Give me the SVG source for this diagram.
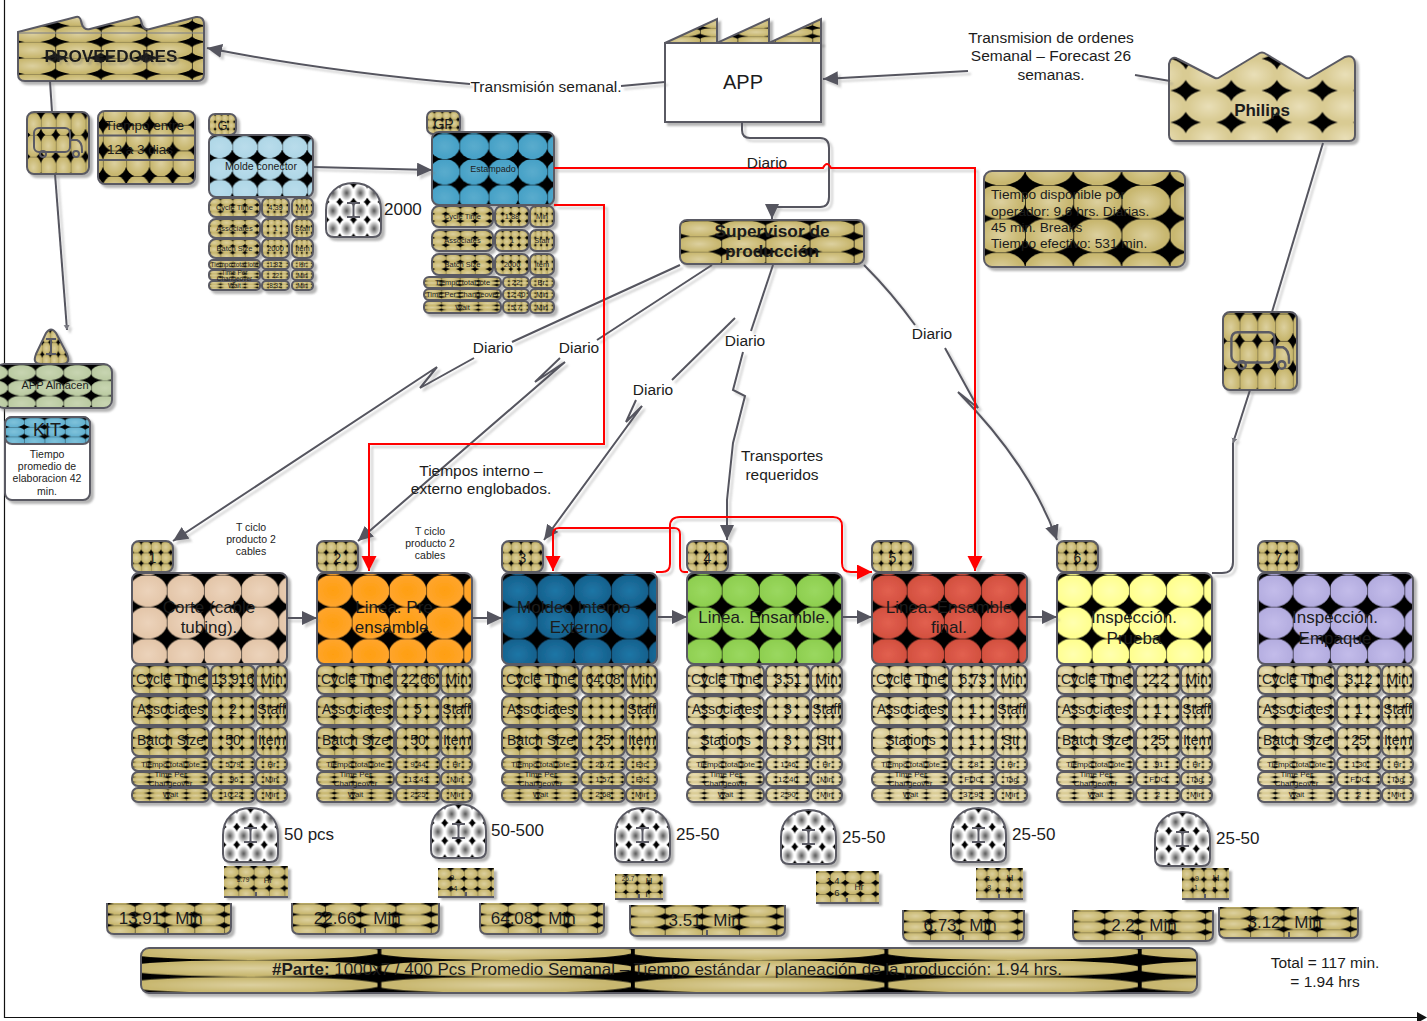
<svg xmlns="http://www.w3.org/2000/svg" width="1427" height="1021" viewBox="0 0 1427 1021">
<style>
text{font-family:"Liberation Sans",Arial,sans-serif;fill:#1c1c1c;text-anchor:middle}
.l{text-anchor:start}
.b{font-weight:bold}
.n{stroke:#5a5a64;stroke-width:2}
.cell rect{stroke:#5a5a64;stroke-width:2}
.icon{fill:none;stroke:#5a5a64;stroke-width:2}
.tan{fill:url(#pTan)}.lt{fill:url(#pLt)}
.c{fill:none;stroke:#55555f;stroke-width:2}
.r{fill:none;stroke:#f00;stroke-width:2}
.f14{font-size:14px}.fl{font-size:15.5px}.f17{font-size:17px}.f8{font-size:8px}.f10{font-size:10.5px}.f16{font-size:17px}
.tk{stroke:#5a5a64;stroke-width:2;fill:none}
</style>
<defs>
<filter id="sh" x="-15%" y="-25%" width="135%" height="160%"><feDropShadow dx="3" dy="3" stdDeviation="1" flood-color="#777" flood-opacity=".55"/></filter>
<filter id="ts" x="-5%" y="-20%" width="115%" height="160%"><feDropShadow dx="2" dy="3" stdDeviation="1" flood-color="#777" flood-opacity=".35"/></filter>
<filter id="cs" filterUnits="userSpaceOnUse" x="0" y="0" width="1427" height="1021"><feDropShadow dx="3" dy="3" stdDeviation=".8" flood-color="#777" flood-opacity=".35"/></filter>
<radialGradient id="gTan"><stop offset="0" stop-color="#dcd09f"/><stop offset=".85" stop-color="#c8b76f"/></radialGradient>
<radialGradient id="gLt"><stop offset="0" stop-color="#e9dfb8"/><stop offset=".85" stop-color="#d9cb93"/></radialGradient>
<radialGradient id="gW"><stop offset="0" stop-color="#555"/><stop offset=".8" stop-color="#fff"/><stop offset="1" stop-color="#fff"/></radialGradient>
<radialGradient id="g0"><stop offset="0" stop-color="#b9dceb"/><stop offset="1" stop-color="#aed6e6"/></radialGradient>
<radialGradient id="gE"><stop offset="0" stop-color="#5aaccd"/><stop offset="1" stop-color="#45a0c6"/></radialGradient>
<radialGradient id="gA"><stop offset="0" stop-color="#c8d5b2"/><stop offset="1" stop-color="#b9c9a0"/></radialGradient>
<radialGradient id="gK"><stop offset="0" stop-color="#80c2da"/><stop offset="1" stop-color="#62b0cf"/></radialGradient>
<radialGradient id="g1"><stop offset="0" stop-color="#ecd3bb"/><stop offset="1" stop-color="#e3c5a8"/></radialGradient>
<radialGradient id="g2"><stop offset="0" stop-color="#ff9f10"/><stop offset="1" stop-color="#ffa52e"/></radialGradient>
<radialGradient id="g3"><stop offset="0" stop-color="#1f76a6"/><stop offset="1" stop-color="#15608c"/></radialGradient>
<radialGradient id="g4"><stop offset="0" stop-color="#9ad860"/><stop offset="1" stop-color="#8dce4e"/></radialGradient>
<radialGradient id="g5"><stop offset="0" stop-color="#e26050"/><stop offset="1" stop-color="#d24f3e"/></radialGradient>
<radialGradient id="g6"><stop offset="0" stop-color="#ffffb0"/><stop offset="1" stop-color="#ffff8c"/></radialGradient>
<radialGradient id="g7"><stop offset="0" stop-color="#c3bcea"/><stop offset="1" stop-color="#b3acdf"/></radialGradient>
<path id="seam" d="M0,0H1V.015H0Z M0,0H.015V1H0Z"/>

<pattern id="pTan" x="-.016" y=".02" width=".24" height=".35" viewBox="0 0 1 1" preserveAspectRatio="none"><rect width="1" height="1"/><ellipse cx=".5" cy=".5" rx=".535" ry=".535" fill="url(#gTan)"/><use href="#seam"/></pattern>
<pattern id="pLt" x="-.016" y=".02" width=".24" height=".35" viewBox="0 0 1 1" preserveAspectRatio="none"><rect width="1" height="1"/><ellipse cx=".5" cy=".5" rx=".535" ry=".535" fill="url(#gLt)"/><use href="#seam"/></pattern>
<pattern id="pProv" x=".2" y=".14" width=".245" height=".25" viewBox="0 0 1 1" preserveAspectRatio="none"><rect width="1" height="1"/><ellipse cx=".5" cy=".5" rx=".525" ry=".525" fill="url(#gTan)"/><use href="#seam"/></pattern>
<pattern id="pInfo" x=".204" y=".146" width=".24" height=".35" viewBox="0 0 1 1" preserveAspectRatio="none"><rect width="1" height="1"/><ellipse cx=".5" cy=".5" rx=".505" ry=".51" fill="url(#gTan)"/><use href="#seam"/></pattern>
<pattern id="pLead" x=".05" y=".19" width=".24" height=".35" viewBox="0 0 1 1" preserveAspectRatio="none"><rect width="1" height="1"/><ellipse cx=".5" cy=".5" rx=".52" ry=".52" fill="url(#gTan)"/><use href="#seam"/></pattern>
<pattern id="pParte" x=".224" y=".267" width=".24" height=".37" viewBox="0 0 1 1" preserveAspectRatio="none"><rect width="1" height="1"/><ellipse cx=".5" cy=".5" rx=".515" ry=".5" fill="url(#gTan)"/><use href="#seam"/></pattern>
<pattern id="pPh" x=".09" y=".07" width=".245" height=".36" viewBox="0 0 1 1" preserveAspectRatio="none"><rect width="1" height="1"/><ellipse cx=".5" cy=".5" rx=".525" ry=".525" fill="url(#gLt)"/></pattern>
<pattern id="pW" x="0" y=".02" width=".25" height=".33" viewBox="0 0 1 1" preserveAspectRatio="none"><rect width="1" height="1"/><ellipse cx=".5" cy=".5" rx=".55" ry=".55" fill="url(#gW)"/></pattern>
<pattern id="p0" x="-.016" y=".02" width=".24" height=".35" viewBox="0 0 1 1" preserveAspectRatio="none"><rect width="1" height="1"/><ellipse cx=".5" cy=".5" rx=".51" ry=".505" fill="url(#g0)"/><use href="#seam"/></pattern>
<pattern id="pE" x="-.016" y=".02" width=".24" height=".35" viewBox="0 0 1 1" preserveAspectRatio="none"><rect width="1" height="1"/><ellipse cx=".5" cy=".5" rx=".51" ry=".505" fill="url(#gE)"/><use href="#seam"/></pattern>
<pattern id="pA" x=".1" y=".02" width=".24" height=".35" viewBox="0 0 1 1" preserveAspectRatio="none"><rect width="1" height="1"/><ellipse cx=".5" cy=".5" rx=".51" ry=".505" fill="url(#gA)"/><use href="#seam"/></pattern>
<pattern id="pK" x="-.016" y=".02" width=".24" height=".35" viewBox="0 0 1 1" preserveAspectRatio="none"><rect width="1" height="1"/><ellipse cx=".5" cy=".5" rx=".535" ry=".535" fill="url(#gK)"/><use href="#seam"/></pattern>
<pattern id="p1" x="-.016" y=".02" width=".24" height=".35" viewBox="0 0 1 1" preserveAspectRatio="none"><rect width="1" height="1"/><ellipse cx=".5" cy=".5" rx=".51" ry=".505" fill="url(#g1)"/><use href="#seam"/></pattern>
<pattern id="p2" x="-.016" y=".02" width=".24" height=".35" viewBox="0 0 1 1" preserveAspectRatio="none"><rect width="1" height="1"/><ellipse cx=".5" cy=".5" rx=".51" ry=".505" fill="url(#g2)"/><use href="#seam"/></pattern>
<pattern id="p3" x="-.016" y=".02" width=".24" height=".35" viewBox="0 0 1 1" preserveAspectRatio="none"><rect width="1" height="1"/><ellipse cx=".5" cy=".5" rx=".51" ry=".505" fill="url(#g3)"/><use href="#seam"/></pattern>
<pattern id="p4" x="-.016" y=".02" width=".24" height=".35" viewBox="0 0 1 1" preserveAspectRatio="none"><rect width="1" height="1"/><ellipse cx=".5" cy=".5" rx=".51" ry=".505" fill="url(#g4)"/><use href="#seam"/></pattern>
<pattern id="p5" x="-.016" y=".02" width=".24" height=".35" viewBox="0 0 1 1" preserveAspectRatio="none"><rect width="1" height="1"/><ellipse cx=".5" cy=".5" rx=".51" ry=".505" fill="url(#g5)"/><use href="#seam"/></pattern>
<pattern id="p6" x="-.016" y=".02" width=".24" height=".35" viewBox="0 0 1 1" preserveAspectRatio="none"><rect width="1" height="1"/><ellipse cx=".5" cy=".5" rx=".51" ry=".505" fill="url(#g6)"/><use href="#seam"/></pattern>
<pattern id="p7" x="-.016" y=".02" width=".24" height=".35" viewBox="0 0 1 1" preserveAspectRatio="none"><rect width="1" height="1"/><ellipse cx=".5" cy=".5" rx=".51" ry=".505" fill="url(#g7)"/><use href="#seam"/></pattern>

<marker id="ah" markerUnits="userSpaceOnUse" markerWidth="17" markerHeight="15" refX="15" refY="7" orient="auto"><path d="M0,0 L15,7 L0,14 Z" fill="#55555f"/></marker>
<marker id="rh" markerUnits="userSpaceOnUse" markerWidth="18" markerHeight="18" refX="15" refY="7.5" orient="auto"><path d="M0,0 L15,7.5 L0,15 Z" fill="#f00"/></marker>
<marker id="sm" markerUnits="userSpaceOnUse" markerWidth="7" markerHeight="7" refX="5" refY="3" orient="auto"><path d="M0,0 L5,3 L0,6 Z" fill="#77777f"/></marker>

<g id="tbl" class="cell">
<rect x="0" y="665" width="77" height="29" rx="7"/><rect x="79" y="665" width="44" height="29" rx="7"/><rect x="124" y="665" width="31" height="29" rx="7"/>
<rect x="0" y="696" width="77" height="29" rx="7"/><rect x="79" y="696" width="44" height="29" rx="7"/><rect x="124" y="696" width="31" height="29" rx="7"/>
<rect x="0" y="727" width="77" height="29" rx="7"/><rect x="79" y="727" width="44" height="29" rx="7"/><rect x="124" y="727" width="31" height="29" rx="7"/>
<rect x="0" y="757" width="77" height="14" rx="6"/><rect x="79" y="757" width="44" height="14" rx="6"/><rect x="124" y="757" width="31" height="14" rx="6"/>
<rect x="0" y="772" width="77" height="14" rx="6"/><rect x="79" y="772" width="44" height="14" rx="6"/><rect x="124" y="772" width="31" height="14" rx="6"/>
<rect x="0" y="788" width="77" height="14" rx="6"/><rect x="79" y="788" width="44" height="14" rx="6"/><rect x="124" y="788" width="31" height="14" rx="6"/>
</g>
<path id="inv" class="n" d="M0,27 C0,10 12,0 27.5,0 C43,0 55,10 55,27 V46 Q55,54 47,54 H8 Q0,54 0,46 Z" fill="url(#pW)"/>
<path id="beam" class="icon" d="M21,20 H34 M27.5,20 V34 M21,34 H34"/>
<g id="truck" class="icon"><rect x="7" y="16" width="36" height="24" rx="5"/><path d="M43,28 H50 Q55,30 55,38 V41"/><circle cx="16" cy="42" r="3"/><circle cx="49" cy="42" r="3"/></g>
</defs>

<g id="timeline"><path d="M4.5,0 V1017.5 H1418" fill="none" stroke="#111" stroke-width="1.2"/><path d="M1417,1012 L1427,1017.5 L1417,1023 Z" fill="#111"/></g>

<g id="proveedores"><path class="n" filter="url(#sh)" fill="url(#pProv)" d="M18,32 L76,17 Q80,16 81,21 Q83,31 90,29 L136,17 Q140,16 141,21 Q143,31 150,29 L196,17 Q204,16 204,25 V74 Q204,81 197,81 H25 Q18,81 18,74 Z"/><path d="M19,33 H203" stroke="#888" stroke-width="2" opacity=".6"/><text class="b" x="111" y="62" font-size="17.2" filter="url(#ts)">PROVEEDORES</text></g>

<g id="truck-supplier"><rect class="n tan" filter="url(#sh)" x="27" y="112" width="62" height="62" rx="7"/><use href="#truck" transform="translate(27,112)"/></g>

<g id="lead-time"><rect class="n" fill="url(#pLead)" filter="url(#sh)" x="98" y="111" width="97" height="73" rx="7"/><path class="tk" d="M98,135.5 H195 M98,160 H195"/><text class="l" x="105" y="130" font-size="13.5">Tiempo entre</text><text class="l" x="107" y="154" font-size="13.5">12 a 3 dias</text></g>

<g id="molde"><rect class="n tan" filter="url(#sh)" x="209" y="114" width="27" height="21" rx="6"/><text x="222.500" y="130" font-size="13">G</text><rect class="n" fill="url(#p0)" filter="url(#sh)" x="209" y="135" width="104" height="62" rx="7"/><text x="261" y="170" font-size="10.500">Molde conector</text>
<g class="cell" filter="url(#sh)"><rect class="tan" x="209" y="198" width="51" height="19" rx="7"/><rect class="tan" x="262" y="198" width="27" height="19" rx="6"/><rect class="tan" x="292" y="198" width="21" height="19" rx="6"/><rect class="tan" x="209" y="219" width="51" height="19" rx="7"/><rect class="tan" x="262" y="219" width="27" height="19" rx="6"/><rect class="tan" x="292" y="219" width="21" height="19" rx="6"/><rect class="tan" x="209" y="239" width="51" height="19" rx="7"/><rect class="tan" x="262" y="239" width="27" height="19" rx="6"/><rect class="tan" x="292" y="239" width="21" height="19" rx="6"/><rect class="tan" x="209" y="260" width="51" height="9" rx="4"/><rect class="tan" x="262" y="260" width="27" height="9" rx="4"/><rect class="tan" x="292" y="260" width="21" height="9" rx="4"/><rect class="tan" x="209" y="270" width="51" height="10" rx="4"/><rect class="tan" x="262" y="270" width="27" height="10" rx="4"/><rect class="tan" x="292" y="270" width="21" height="10" rx="4"/><rect class="tan" x="209" y="281" width="51" height="9" rx="4"/><rect class="tan" x="262" y="281" width="27" height="9" rx="4"/><rect class="tan" x="292" y="281" width="21" height="9" rx="4"/></g>
<g font-size="7.500"><text x="234.500" y="210">Cycle Time</text><text x="275.500" y="210">4.39</text><text x="302.500" y="210">Min</text><text x="234.500" y="231">Associates</text><text x="275.500" y="231">1</text><text x="302.500" y="231">Staff</text><text x="234.500" y="251">Batch Size</text><text x="275.500" y="251">2000</text><text x="302.500" y="251">Item</text></g>
<g font-size="6.500"><text x="234.500" y="267">Tiempo total lote</text><text x="275.500" y="267">1.82</text><text x="302.500" y="267">Hr</text><text x="234.500" y="274.500">Time Per</text><text x="234.500" y="280.500">Changeover</text><text x="275.500" y="278">22</text><text x="302.500" y="278">Min</text><text x="234.500" y="288">Wait</text><text x="275.500" y="288">8.32</text><text x="302.500" y="288">Min</text></g></g>

<g id="inv-molde"><use href="#inv" x="326" y="183" filter="url(#sh)"/><use href="#beam" x="326" y="183"/><text class="f16 l" x="384" y="215">2000</text></g>

<g id="estampado"><rect class="n tan" filter="url(#sh)" x="427" y="111" width="33" height="23" rx="6"/><text x="443.500" y="129" font-size="14">GP</text><rect class="n" fill="url(#pE)" filter="url(#sh)" x="432" y="132" width="122" height="73" rx="7"/><text x="493" y="172" font-size="9">Estampado</text>
<g class="cell" filter="url(#sh)"><rect class="tan" x="432" y="206" width="61" height="21" rx="7"/><rect class="tan" x="495" y="206" width="34" height="21" rx="7"/><rect class="tan" x="530" y="206" width="24" height="21" rx="6"/><rect class="tan" x="432" y="230" width="61" height="21" rx="7"/><rect class="tan" x="495" y="230" width="34" height="21" rx="7"/><rect class="tan" x="530" y="230" width="24" height="21" rx="6"/><rect class="tan" x="432" y="254" width="61" height="21" rx="7"/><rect class="tan" x="495" y="254" width="34" height="21" rx="7"/><rect class="tan" x="530" y="254" width="24" height="21" rx="6"/><rect class="tan" x="424" y="277" width="77" height="11" rx="5"/><rect class="tan" x="503" y="277" width="26" height="11" rx="5"/><rect class="tan" x="530" y="277" width="24" height="11" rx="5"/><rect class="tan" x="424" y="289" width="77" height="11" rx="5"/><rect class="tan" x="503" y="289" width="26" height="11" rx="5"/><rect class="tan" x="530" y="289" width="24" height="11" rx="5"/><rect class="tan" x="424" y="301" width="77" height="12" rx="5"/><rect class="tan" x="503" y="301" width="26" height="12" rx="5"/><rect class="tan" x="530" y="301" width="24" height="12" rx="5"/></g>
<g font-size="7.500"><text x="462.500" y="219">Cycle Time</text><text x="512" y="219">1.88</text><text x="542" y="219">Min</text><text x="462.500" y="243">Associates</text><text x="512" y="243">1</text><text x="542" y="243">Staff</text><text x="462.500" y="267">Batch Size</text><text x="512" y="267">2000</text><text x="542" y="267">Item</text><text x="462.500" y="285">Tiempo total lote</text><text x="516" y="285">22</text><text x="542" y="285">Br.</text><text x="462.500" y="297">Time Per Changeover</text><text x="516" y="297">12 40</text><text x="542" y="297">Min</text><text x="462.500" y="310">Wait</text><text x="516" y="310">5.7</text><text x="542" y="310">Min</text></g></g>

<g id="app"><path class="n tan" filter="url(#sh)" d="M665,43 L717,19 V43 L769,19 V43 L821,19 V43 Z"/><rect class="n" fill="#fff" filter="url(#sh)" x="665" y="43" width="156" height="79"/><text x="743" y="89" font-size="20">APP</text></g>

<g id="philips"><path class="n" fill="url(#pPh)" filter="url(#sh)" d="M1169,64 Q1171,55 1178,59 L1215,78 Q1217,79 1220,77 L1258,54 Q1262,51 1266,54 L1306,78 Q1308,79 1311,77 L1345,57 Q1355,54 1355,65 V135 Q1355,141 1349,141 H1175 Q1169,141 1169,135 Z"/><text class="b" x="1262" y="116" font-size="17">Philips</text></g>

<g id="info"><rect class="n" fill="url(#pInfo)" filter="url(#sh)" x="984" y="171" width="201" height="96" rx="8"/><g font-size="13.700"><text class="l" x="991" y="199">Tiempo disponible por</text><text class="l" x="991" y="216">operador: 9.6 hrs. Diarias.</text><text class="l" x="991" y="232">45 min. Breaks</text><text class="l" x="991" y="248">Tiempo efectivo: 531 min.</text></g></g>

<g id="supervisor"><rect class="n tan" filter="url(#sh)" x="680" y="220" width="184" height="44" rx="7"/><text class="b" font-size="17.3" x="772" y="237">Supervisor de</text><text class="b" font-size="17.3" x="772" y="257">producción</text></g>

<g id="truck-philips"><rect class="n tan" filter="url(#sh)" x="1223" y="312" width="74" height="78" rx="7"/><use href="#truck" transform="translate(1223,312) scale(1.2,1.26)"/></g>

<g id="almacen"><path class="n tan" filter="url(#sh)" d="M46,333 Q51,326 56,333 L67,354 Q71,364 62,364 H41 Q32,364 36,354 Z"/><path class="icon" d="M46,339 H56 M51,339 V354 M46,354 H56"/><rect class="n" fill="url(#pA)" filter="url(#sh)" x="-4" y="364" width="116" height="44" rx="8"/><text x="55" y="389" font-size="11">APP Almacen</text></g>

<g id="kit"><rect class="n" fill="#fff" filter="url(#sh)" x="5" y="417" width="85" height="83" rx="7"/><rect class="n" fill="url(#pK)" x="5" y="417" width="85" height="27" rx="7"/><text x="47" y="436" font-size="18">KIT</text><g font-size="10.500"><text x="47" y="458">Tiempo</text><text x="47" y="470">promedio de</text><text x="47" y="482">elaboracion 42</text><text x="47" y="495">min.</text></g></g>

<g id="station-1" transform="translate(132,0)"><rect class="n tan" filter="url(#sh)" y="541" width="41" height="31" rx="7"/><text class="f14" x="20.500" y="563">1</text><rect class="n" fill="url(#p1)" filter="url(#sh)" y="573" width="155" height="91" rx="7"/><text class="f17" x="77" y="613">Corte (cable</text><text class="f17" x="77" y="633">tubing).</text><use href="#tbl" class="tan" filter="url(#sh)"/>
<g class="f14"><text x="38.500" y="684">Cycle Time</text><text x="101" y="684">13.916</text><text x="139.500" y="684">Min</text><text x="38.500" y="714">Associates</text><text x="101" y="714">2</text><text x="139.500" y="714">Staff</text><text x="38.500" y="745">Batch Size</text><text x="101" y="745">50</text><text x="139.500" y="745">Item</text></g>
<g class="f8"><text x="38.500" y="767">Tiempo total lote</text><text x="101" y="767">5.79</text><text x="139.500" y="767">Hr</text><text x="38.500" y="777">Time Per</text><text x="38.500" y="786">Changeover</text><text x="101" y="782">.96</text><text x="139.500" y="782">Min</text><text x="38.500" y="797">Wait</text><text x="101" y="797">10.22</text><text x="139.500" y="797">Min</text></g></g>

<g id="station-2" transform="translate(317,0)"><rect class="n tan" filter="url(#sh)" y="541" width="41" height="31" rx="7"/><text class="f14" x="20.500" y="563">2</text><rect class="n" fill="url(#p2)" filter="url(#sh)" y="573" width="155" height="91" rx="7"/><text class="f17" x="77" y="613">Linea. Pre</text><text class="f17" x="77" y="633">ensamble.</text><use href="#tbl" class="tan" filter="url(#sh)"/>
<g class="f14"><text x="38.500" y="684">Cycle Time</text><text x="101" y="684">22.66</text><text x="139.500" y="684">Min</text><text x="38.500" y="714">Associates</text><text x="101" y="714">5</text><text x="139.500" y="714">Staff</text><text x="38.500" y="745">Batch Size</text><text x="101" y="745">50</text><text x="139.500" y="745">Item</text></g>
<g class="f8"><text x="38.500" y="767">Tiempo total lote</text><text x="101" y="767">9.44</text><text x="139.500" y="767">Hr</text><text x="38.500" y="777">Time Per</text><text x="38.500" y="786">Changeover</text><text x="101" y="782">13.43</text><text x="139.500" y="782">Min</text><text x="38.500" y="797">Wait</text><text x="101" y="797">2.25</text><text x="139.500" y="797">Min</text></g></g>

<g id="station-3" transform="translate(502,0)"><rect class="n tan" filter="url(#sh)" y="541" width="41" height="31" rx="7"/><text class="f14" x="20.500" y="563">3</text><rect class="n" fill="url(#p3)" filter="url(#sh)" y="573" width="155" height="91" rx="7"/><text class="f17" x="77" y="613">Moldeo Interno -</text><text class="f17" x="77" y="633">Externo</text><use href="#tbl" class="tan" filter="url(#sh)"/>
<g class="f14"><text x="38.500" y="684">Cycle Time</text><text x="101" y="684">64.08</text><text x="139.500" y="684">Min</text><text x="38.500" y="714">Associates</text><text x="139.500" y="714">Staff</text><text x="38.500" y="745">Batch Size</text><text x="101" y="745">25</text><text x="139.500" y="745">Item</text></g>
<g class="f8"><text x="38.500" y="767">Tiempo total lote</text><text x="101" y="767">26.7</text><text x="139.500" y="767">Etc</text><text x="38.500" y="777">Time Per</text><text x="38.500" y="786">Changeover</text><text x="101" y="782">1.57</text><text x="139.500" y="782">Etc</text><text x="38.500" y="797">Wait</text><text x="101" y="797">2.68</text><text x="139.500" y="797">Min</text></g></g>

<g id="station-4" transform="translate(687,0)"><rect class="n tan" filter="url(#sh)" y="541" width="41" height="31" rx="7"/><text class="f14" x="20.500" y="563">4</text><rect class="n" fill="url(#p4)" filter="url(#sh)" y="573" width="155" height="91" rx="7"/><text class="f17" x="77" y="623">Linea. Ensamble.</text><use href="#tbl" class="lt" filter="url(#sh)"/>
<g class="f14"><text x="38.500" y="684">Cycle Time</text><text x="101" y="684">3.51</text><text x="139.500" y="684">Min</text><text x="38.500" y="714">Associates</text><text x="101" y="714">3</text><text x="139.500" y="714">Staff</text><text x="38.500" y="745">Stations</text><text x="101" y="745">3</text><text x="139.500" y="745">Str</text></g>
<g class="f8"><text x="38.500" y="767">Tiempo total lote</text><text x="101" y="767">1.46</text><text x="139.500" y="767">Hr</text><text x="38.500" y="777">Time Per</text><text x="38.500" y="786">Changeover</text><text x="101" y="782">12:40</text><text x="139.500" y="782">Min</text><text x="38.500" y="797">Wait</text><text x="101" y="797">2.90</text><text x="139.500" y="797">Min</text></g></g>

<g id="station-5" transform="translate(872,0)"><rect class="n tan" filter="url(#sh)" y="541" width="41" height="31" rx="7"/><text class="f14" x="20.500" y="563">5</text><rect class="n" fill="url(#p5)" filter="url(#sh)" y="573" width="155" height="91" rx="7"/><text class="f17" x="77" y="613">Linea. Ensamble</text><text class="f17" x="77" y="633">final.</text><use href="#tbl" class="lt" filter="url(#sh)"/>
<g class="f14"><text x="38.500" y="684">Cycle Time</text><text x="101" y="684">6.73</text><text x="139.500" y="684">Min</text><text x="38.500" y="714">Associates</text><text x="101" y="714">1</text><text x="139.500" y="714">Staff</text><text x="38.500" y="745">Stations</text><text x="101" y="745">1</text><text x="139.500" y="745">Str</text></g>
<g class="f8"><text x="38.500" y="767">Tiempo total lote</text><text x="101" y="767">2.8</text><text x="139.500" y="767">Hr</text><text x="38.500" y="777">Time Per</text><text x="38.500" y="786">Changeover</text><text x="101" y="782">FIJO</text><text x="139.500" y="782">Tag</text><text x="38.500" y="797">Wait</text><text x="101" y="797">37.95</text><text x="139.500" y="797">Min</text></g></g>

<g id="station-6" transform="translate(1057,0)"><rect class="n tan" filter="url(#sh)" y="541" width="41" height="31" rx="7"/><text class="f14" x="20.500" y="563">6</text><rect class="n" fill="url(#p6)" filter="url(#sh)" y="573" width="155" height="91" rx="7"/><text class="f17" x="77" y="623">Inspección.</text><text class="f17" x="77" y="644">Prueba</text><use href="#tbl" class="lt" filter="url(#sh)"/>
<g class="f14"><text x="38.500" y="684">Cycle Time</text><text x="101" y="684">2.2</text><text x="139.500" y="684">Min</text><text x="38.500" y="714">Associates</text><text x="101" y="714">1</text><text x="139.500" y="714">Staff</text><text x="38.500" y="745">Batch Size</text><text x="101" y="745">25</text><text x="139.500" y="745">Item</text></g>
<g class="f8"><text x="38.500" y="767">Tiempo total lote</text><text x="101" y="767">.91</text><text x="139.500" y="767">Hr</text><text x="38.500" y="777">Time Per</text><text x="38.500" y="786">Changeover</text><text x="101" y="782">FIJO</text><text x="139.500" y="782">Tag</text><text x="38.500" y="797">Wait</text><text x="101" y="797">2</text><text x="139.500" y="797">Min</text></g></g>

<g id="station-7" transform="translate(1258,0)"><rect class="n tan" filter="url(#sh)" y="541" width="41" height="31" rx="7"/><text class="f14" x="20.500" y="563">7</text><rect class="n" fill="url(#p7)" filter="url(#sh)" y="573" width="155" height="91" rx="7"/><text class="f17" x="77" y="623">Inspección.</text><text class="f17" x="77" y="644">Empaque</text><use href="#tbl" class="lt" filter="url(#sh)"/>
<g class="f14"><text x="38.500" y="684">Cycle Time</text><text x="101" y="684">3.12</text><text x="139.500" y="684">Min</text><text x="38.500" y="714">Associates</text><text x="101" y="714">1</text><text x="139.500" y="714">Staff</text><text x="38.500" y="745">Batch Size</text><text x="101" y="745">25</text><text x="139.500" y="745">Item</text></g>
<g class="f8"><text x="38.500" y="767">Tiempo total lote</text><text x="101" y="767">1.30</text><text x="139.500" y="767">Hr</text><text x="38.500" y="777">Time Per</text><text x="38.500" y="786">Changeover</text><text x="101" y="782">FIJO</text><text x="139.500" y="782">Tag</text><text x="38.500" y="797">Wait</text><text x="101" y="797">2</text><text x="139.500" y="797">Min</text></g></g>

<g id="inventory">
<g id="inv-1"><use href="#inv" x="223" y="808" filter="url(#sh)"/><use href="#beam" x="223" y="808"/><text class="f16 l" x="284" y="840">50 pcs</text></g>
<g id="inv-2"><use href="#inv" x="431" y="804" filter="url(#sh)"/><use href="#beam" x="431" y="804"/><text class="f16 l" x="491" y="836">50-500</text></g>
<g id="inv-3"><use href="#inv" x="615" y="808" filter="url(#sh)"/><use href="#beam" x="615" y="808"/><text class="f16 l" x="676" y="840">25-50</text></g>
<g id="inv-4"><use href="#inv" x="781" y="810" filter="url(#sh)"/><use href="#beam" x="781" y="810"/><text class="f16 l" x="842" y="843">25-50</text></g>
<g id="inv-5"><use href="#inv" x="951" y="808" filter="url(#sh)"/><use href="#beam" x="951" y="808"/><text class="f16 l" x="1012" y="840">25-50</text></g>
<g id="inv-6"><use href="#inv" x="1155" y="812" filter="url(#sh)"/><use href="#beam" x="1155" y="812"/><text class="f16 l" x="1216" y="844">25-50</text></g>
</g>

<g id="lot-times">
<g id="lot-1"><path class="tan" filter="url(#sh)" d="M224,866 H288 V897 H224 Z"/><path class="tk" stroke-width="1.500" d="M224,897 H288 M256,892 V897"/><text x="243" y="882" font-size="6.500">5.79</text><text x="268" y="883" font-size="8">Hr</text></g>
<g id="lot-2"><path class="tan" filter="url(#sh)" d="M438,868 H494 V897 H438 Z"/><path class="tk" stroke-width="1.500" d="M438,897 H494 M466,892 V897"/><text x="453" y="880" font-size="8">9.</text><text x="453" y="891" font-size="8">44</text></g>
<g id="lot-3"><path class="tan" filter="url(#sh)" d="M615,874 H663 V899 H615 Z"/><path class="tk" stroke-width="1.500" d="M615,899 H663 M639,894 V899"/><text x="628" y="881" font-size="6.500">26.7</text><text x="649" y="884" font-size="9">H</text><text x="647" y="897" font-size="9">r</text></g>
<g id="lot-4"><path class="tan" filter="url(#sh)" d="M816,871 H879 V903 H816 Z"/><path class="tk" stroke-width="1.500" d="M816,903 H879 M847,898 V903"/><text x="833" y="884" font-size="9.500">1.4</text><text x="837" y="896" font-size="9.500">6</text><text x="859" y="890" font-size="8.500">Hr</text></g>
<g id="lot-5"><path class="tan" filter="url(#sh)" d="M976,868 H1023 V899 H976 Z"/><path class="tk" stroke-width="1.500" d="M976,899 H1023 M999,894 V899"/><text x="989" y="881" font-size="7.500">2.</text><text x="989" y="890" font-size="7.500">8</text><text x="1010" y="881" font-size="9.500">H</text><text x="1007" y="892" font-size="9.500">r</text></g>
<g id="lot-6"><path class="tan" filter="url(#sh)" d="M1182,868 H1229 V899 H1182 Z"/><path class="tk" stroke-width="1.500" d="M1182,899 H1229 M1205,894 V899"/><text x="1196" y="881" font-size="7">.9</text><text x="1196" y="890" font-size="7">1</text><text x="1216" y="881" font-size="9.500">H</text><text x="1214" y="892" font-size="9.500">r</text></g>
</g>

<g id="cycle-times">
<g id="ct-1"><path class="n tan" filter="url(#sh)" d="M107,903 V927 Q107,934 114,934 H224 Q231,934 231,927 V903"/><path class="tk" d="M168,928 V934"/><text class="f17" x="140" y="924">13.91</text><text class="f17" x="189" y="924">Min</text></g>
<g id="ct-2"><path class="n tan" filter="url(#sh)" d="M292,903 V927 Q292,934 299,934 H432 Q439,934 439,927 V903"/><path class="tk" d="M365,928 V934"/><text class="f17" x="335" y="924">22.66</text><text class="f17" x="387" y="924">Min</text></g>
<g id="ct-3"><path class="n tan" filter="url(#sh)" d="M480,903 V927 Q480,934 487,934 H597 Q604,934 604,927 V903"/><path class="tk" d="M541,928 V934"/><text class="f17" x="512" y="924">64.08</text><text class="f17" x="562" y="924">Min</text></g>
<g id="ct-4"><path class="n tan" filter="url(#sh)" d="M630,905 V929 Q630,936 637,936 H778 Q785,936 785,929 V905"/><path class="tk" d="M707,930 V936"/><text class="f17" x="685" y="926">3.51</text><text class="f17" x="727" y="926">Min</text></g>
<g id="ct-5"><path class="n tan" filter="url(#sh)" d="M903,910 V934 Q903,941 910,941 H1017 Q1024,941 1024,934 V910"/><path class="tk" d="M963,935 V941"/><text class="f17" x="940" y="931">6.73</text><text class="f17" x="983" y="931">Min</text></g>
<g id="ct-6"><path class="n tan" filter="url(#sh)" d="M1073,910 V934 Q1073,941 1080,941 H1206 Q1213,941 1213,934 V910"/><path class="tk" d="M1142,935 V941"/><text class="f17" x="1123" y="931">2.2</text><text class="f17" x="1163" y="931">Min</text></g>
<g id="ct-7"><path class="n tan" filter="url(#sh)" d="M1219,907 V931 Q1219,938 1226,938 H1351 Q1358,938 1358,931 V907"/><path class="tk" d="M1289,932 V938"/><text class="f17" x="1264" y="928">3.12</text><text class="f17" x="1308" y="928">Min</text></g>
</g>

<g id="parte"><rect class="n" fill="url(#pParte)" filter="url(#sh)" x="141" y="948" width="1056" height="45" rx="8"/><text class="l" font-size="17" x="272" y="975"><tspan class="b">#Parte:</tspan> 1000x7 / 400 Pcs Promedio Semanal – Tiempo estándar / planeación de la producción: 1.94 hrs.</text></g>

<g id="total"><text class="fl" x="1325" y="968">Total = 117 min.</text><text class="fl" x="1325" y="987">= 1.94 hrs</text></g>

<g id="connectors" filter="url(#cs)">
<path class="c" d="M665,82 L621,86"/>
<path class="c" marker-end="url(#ah)" d="M470,84 Q330,72 207,48"/>
<path class="c" d="M1170,81 L1135,75"/>
<path class="c" marker-end="url(#ah)" d="M968,71 L823,79"/>
<path class="c" d="M50,81 L52,112"/>
<path class="c" marker-end="url(#sm)" d="M55,174 L67,330"/>
<path class="c" marker-end="url(#ah)" d="M313,167 L432,170"/>
<path class="c" marker-end="url(#ah)" d="M742,122 V130 Q742,138 750,138 H820 Q829,138 829,148 V197 Q829,207 820,207 H772 V219"/>
<path class="c" d="M1323,143 L1272,312"/>
<path class="c" marker-end="url(#sm)" d="M1250,390 L1233,443"/>
<path class="c" d="M1233,443 V562 Q1233,573 1222,573 H1212"/>

<path class="c" d="M680,265 L512,342"/>
<path class="c" marker-end="url(#ah)" d="M474,358 L420,388 L437,367 L173,541"/>
<path class="c" d="M712,265 L597,340"/>
<path class="c" marker-end="url(#ah)" d="M560,358 L535,382 L565,362 L358,541"/>
<path class="c" d="M735,318 L672,380"/>
<path class="c" marker-end="url(#ah)" d="M636,400 L626,422 L642,406 L544,540"/>
<path class="c" d="M773,265 L751,331"/>
<path class="c" marker-end="url(#ah)" d="M743,352 L733,390 L745,396 L733,443 L727,500 V540"/>
<path class="c" d="M864,265 Q892,293 915,325"/>
<path class="c" marker-end="url(#ah)" d="M945,348 L978,408 L958,392 Q1030,465 1057,540"/>

<path class="c" marker-end="url(#ah)" d="M287,618 H317"/>
<path class="c" marker-end="url(#ah)" d="M472,618 H502"/>
<path class="c" marker-end="url(#ah)" d="M657,617 H687"/>
<path class="c" marker-end="url(#ah)" d="M842,617 H872"/>
<path class="c" marker-end="url(#ah)" d="M1027,617 H1057"/>

<path class="r" marker-end="url(#rh)" d="M554,168 H823 Q827,160 831,168 H975 V571"/>
<path class="r" marker-end="url(#rh)" d="M554,205 H604 V444 H369 V571"/>
<path class="r" marker-end="url(#rh)" d="M688,572 H684 Q680,572 680,566 V534 Q680,528 674,528 H559 Q553,528 553,534 V571"/>
<path class="r" marker-end="url(#rh)" d="M656,572 H662 Q670,572 670,564 V526 Q670,517 680,517 H833 Q842,517 842,526 V563 Q842,572 851,572 H872"/>
</g>

<g id="labels" class="fl">
<text x="546" y="92">Transmisión semanal.</text>
<text x="1051" y="43">Transmision de ordenes</text><text x="1051" y="61">Semanal – Forecast 26</text><text x="1051" y="80">semanas.</text>
<text x="767" y="168">Diario</text>
<text x="493" y="353">Diario</text><text x="579" y="353">Diario</text><text x="653" y="395">Diario</text><text x="745" y="346">Diario</text><text x="932" y="339">Diario</text>
<text x="782" y="461">Transportes</text><text x="782" y="480">requeridos</text>
<text x="481" y="476">Tiempos interno –</text><text x="481" y="494">externo englobados.</text>
<g class="f10"><text x="251" y="531">T ciclo</text><text x="251" y="543">producto 2</text><text x="251" y="555">cables</text><text x="430" y="535">T ciclo</text><text x="430" y="547">producto 2</text><text x="430" y="559">cables</text></g>
</g>
</svg>
